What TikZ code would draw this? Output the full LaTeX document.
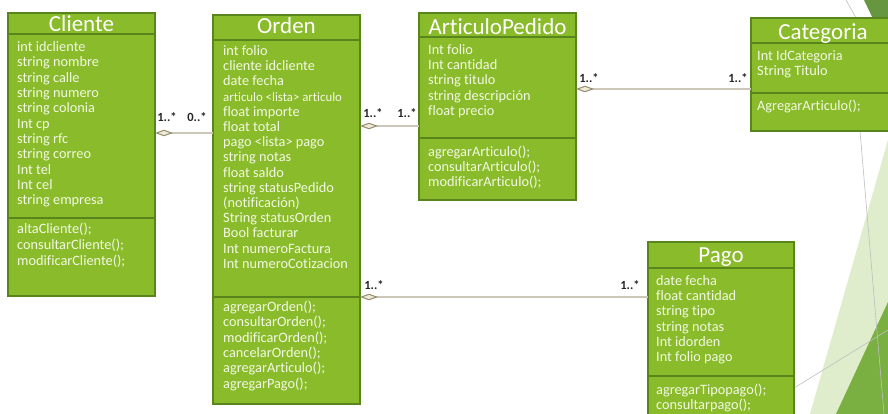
\documentclass[tikz,border=0pt]{standalone}
\usepackage{fontspec}
\setmainfont[Ligatures=NoCommon]{Carlito}
\usetikzlibrary{arrows.meta}

\definecolor{classfill}{RGB}{138,187,42}
\definecolor{classedge}{RGB}{88,134,28}
\definecolor{attrtext}{RGB}{242,249,228}
\definecolor{linkgray}{RGB}{204,199,184}
\definecolor{diamondedge}{RGB}{150,140,108}
\definecolor{diamondfill}{RGB}{238,234,220}
\definecolor{multtext}{RGB}{38,38,38}
\definecolor{facetpale}{RGB}{224,237,204}
\definecolor{facetmid}{RGB}{122,176,66}
\definecolor{facetdark}{RGB}{102,150,64}
\definecolor{facetline}{RGB}{190,190,190}

\tikzset{
  classbox/.style={draw=classedge, line width=1.3pt, fill=classfill,
    anchor=north west, inner sep=0pt, outer sep=0pt},
  divider/.style={draw=classedge, line width=1.2pt},
  classtitle/.style={text=white, anchor=base, inner sep=0pt,
    font=\fontsize{23}{26}\selectfont},
  members/.style={text=attrtext, anchor=north west, inner sep=0pt,
    align=left, font=\fontsize{14.3}{15.3}\selectfont},
  assoc/.style={draw=linkgray, line width=1.6pt,
    {Diamond[length=18pt, width=6.5pt, line width=1pt, color=diamondedge, fill=diamondfill]}-},
  mult/.style={text=multtext, inner sep=0pt, anchor=center,
    font=\fontsize{12.5}{14}\selectfont\bfseries},
  deco/.style={draw=facetline, line width=0.6pt}
}

\begin{document}
\begin{tikzpicture}[x=1pt, y=-1pt]
\useasboundingbox (0,0) rectangle (888,414);
\clip (0,0) rectangle (888,414);
\fill[white] (0,0) rectangle (888,414);

% slide ornaments on the right edge
\fill[facetpale] (888,140) -- (888,414) -- (810,414) -- cycle;
\fill[facetmid] (888,302) -- (888,414) -- (836,414) -- cycle;
\fill[facetdark] (864,0) -- (888,0) -- (888,50) -- cycle;
\draw[deco] (846,0) -- (874,50);
\draw[deco] (860,131) -- (884,414);
\draw[deco] (794,388) -- (888,330);

% ---------- Cliente ----------
\node[classbox, minimum width=147pt, minimum height=283pt] (cliente) at (8,13) {};
\draw[divider] (cliente.west |- 0,34) -- (cliente.east |- 0,34);
\draw[divider] (cliente.west |- 0,218) -- (cliente.east |- 0,218);
\node[classtitle] (clienteT) at (81.5,31.5) {Cliente};
\node[members] (clienteA) at (17,40.7) {\strut int idcliente\\string nombre\\string calle\\string numero\\string colonia\\Int cp\\string rfc\\string correo\\Int tel\\Int cel\\string empresa};
\node[members, font=\fontsize{14.3}{16}\selectfont] (clienteM) at (17,222.2) {\strut altaCliente();\\consultarCliente();\\modificarCliente();};

% ---------- Orden ----------
\node[classbox, minimum width=147pt, minimum height=389pt] (orden) at (213,15) {};
\draw[divider] (orden.west |- 0,40) -- (orden.east |- 0,40);
\draw[divider] (orden.west |- 0,297) -- (orden.east |- 0,297);
\node[classtitle] (ordenT) at (286.5,34) {Orden};
\node[members, font=\fontsize{14.3}{15.2}\selectfont] (ordenA) at (223,44.7) {\strut int folio\\cliente idcliente\\date fecha\\{\fontsize{12.8}{15.2}\selectfont articulo <lista> articulo}\\float importe\\float total\\pago <lista> pago\\string notas\\float saldo\\string statusPedido\\(notificación)\\String statusOrden\\Bool facturar\\Int numeroFactura\\Int numeroCotizacion};
\node[members] (ordenM) at (223,300.7) {\strut agregarOrden();\\consultarOrden();\\modificarOrden();\\cancelarOrden();\\agregarArticulo();\\agregarPago();};

% ---------- ArticuloPedido ----------
\node[classbox, minimum width=157pt, minimum height=187pt] (articulo) at (419,13) {};
\draw[divider] (articulo.west |- 0,37) -- (articulo.east |- 0,37);
\draw[divider] (articulo.west |- 0,138) -- (articulo.east |- 0,138);
\node[classtitle] (articuloT) at (497.5,34.3) {ArticuloPedido};
\node[members, font=\fontsize{14.3}{15.2}\selectfont] (articuloA) at (428,43.7) {\strut Int folio\\Int cantidad\\string titulo\\string descripción\\float precio};
\node[members, font=\fontsize{14.3}{15}\selectfont] (articuloM) at (428,145.7) {\strut agregarArticulo();\\consultarArticulo();\\modificarArticulo();};

% ---------- Categoria ----------
\node[classbox, minimum width=144pt, minimum height=113pt] (categoria) at (751,18) {};
\draw[divider] (categoria.west |- 0,43) -- (categoria.east |- 0,43);
\draw[divider] (categoria.west |- 0,93) -- (categoria.east |- 0,93);
\node[classtitle] (categoriaT) at (823,39.3) {Categoria};
\node[members, font=\fontsize{14.3}{15}\selectfont] (categoriaA) at (757,49.7) {\strut Int IdCategoria\\String Titulo};
\node[members] (categoriaM) at (757,99.7) {\strut AgregarArticulo();};

% ---------- Pago ----------
\node[classbox, minimum width=146pt, minimum height=180pt] (pago) at (648,242) {};
\draw[divider] (pago.west |- 0,268) -- (pago.east |- 0,268);
\draw[divider] (pago.west |- 0,376) -- (pago.east |- 0,376);
\node[classtitle] (pagoT) at (721,262.5) {Pago};
\node[members, font=\fontsize{14.3}{15.2}\selectfont] (pagoA) at (656,274.7) {\strut date fecha\\float cantidad\\string tipo\\string notas\\Int idorden\\Int folio pago};
\node[members, font=\fontsize{14.3}{15}\selectfont] (pagoM) at (656,383.7) {\strut agregarTipopago();\\consultarpago();};

% ---------- associations ----------
\draw[assoc] (cliente.east |- 0,133) -- (orden.west |- 0,133);
\draw[assoc] (orden.east |- 0,126) -- (articulo.west |- 0,126);
\draw[assoc] (articulo.east |- 0,89) -- (categoria.west |- 0,89);
\draw[assoc] (orden.east |- 0,297) -- (pago.west |- 0,297);

% multiplicities
\node[mult] (m1) at (167,117) {1..*};
\node[mult] (m2) at (197,117) {0..*};
\node[mult] (m3) at (373,113) {1..*};
\node[mult] (m4) at (407,113) {1..*};
\node[mult] (m5) at (589,78) {1..*};
\node[mult] (m6) at (738,78) {1..*};
\node[mult] (m7) at (374,285) {1..*};
\node[mult] (m8) at (630,285) {1..*};
\end{tikzpicture}
\end{document}
